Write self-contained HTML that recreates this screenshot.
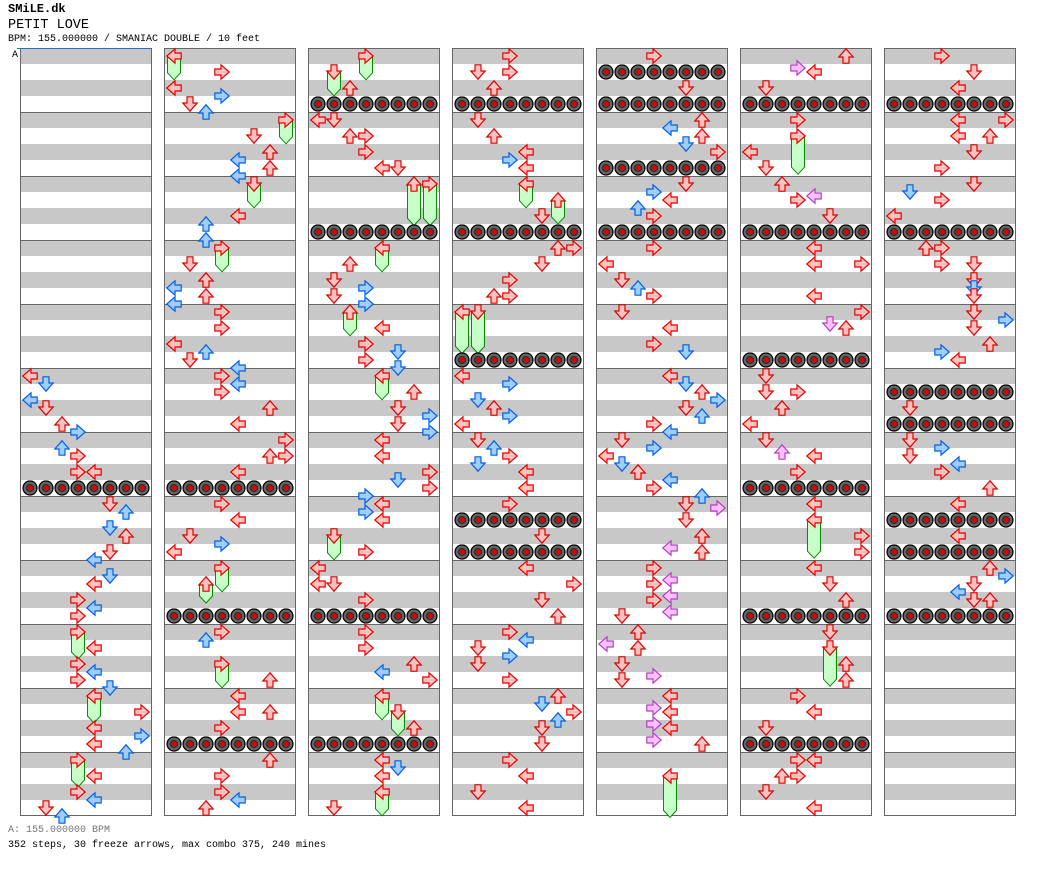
<!DOCTYPE html>
<html><head><meta charset="utf-8"><style>
body{margin:0;background:#fff;width:1040px;height:876px;overflow:hidden;font-family:"Liberation Mono",monospace}
.t{position:absolute;left:8px;white-space:pre;color:#000}
</style></head><body>
<div class="t" style="top:2px;font-size:12px;font-weight:bold">SMiLE.dk</div>
<div class="t" style="top:18px;font-size:13.5px">PETIT LOVE</div>
<div class="t" style="top:34px;font-size:10px">BPM: 155.000000 / SMANIAC DOUBLE / 10 feet</div>
<div class="t" style="top:825px;font-size:10px;color:#777">A: 155.000000 BPM</div>
<div class="t" style="top:840px;font-size:10px">352 steps, 30 freeze arrows, max combo 375, 240 mines</div>
<svg id="chart" width="1040" height="876" style="position:absolute;left:0;top:0" xmlns="http://www.w3.org/2000/svg"></svg>
<script>
// notes per column: [beat, lane] ; pink marked with 'p'
const notes0=[[20,0],[20.5,1],[21.5,0],[22,1],[23,2],[23.5,3],[24.5,2],[25,3],[26,3],[26,4],[28,5],[28.5,6],[29.5,5],[30,6],[31,5],[31.5,4],[32.5,5],[33,4],[34,3],[34.5,4],[35,3],[36,3],[37,4],[38,3],[38.5,4],[39,3],[39.5,5],[40,4],[41,7],[42,4],[42.5,7],[43,4],[43.5,6],[44,3],[45,4],[46,3],[46.5,4],[47,1],[47.5,2]];
const notes1=[[0,0],[1,3],[2,0],[2.5,3],[3,1],[3.5,2],[4,7],[5,5],[6,6],[6.5,4],[7,6],[7.5,4],[8,5],[10,4],[10.5,2],[11.5,2],[12,3],[13,1],[14,2],[14.5,0],[15,2],[15.5,0],[16,3],[17,3],[18,0],[18.5,2],[19,1],[19.5,4],[20,3],[20.5,4],[21,3],[22,6],[23,4],[24,7],[25,6],[25,7],[26,4],[28,3],[29,4],[30,1],[30.5,3],[31,0],[32,3],[33,2],[36,3],[36.5,2],[38,3],[39,6],[40,4],[41,4],[41,6],[42,3],[44,6],[45,3],[46,3],[46.5,4],[47,2]];
const notes2=[[0,3],[1,1],[2,2],[4,0],[4,1],[5,2],[5,3],[6,3],[7,4],[7,5],[8,6],[8,7],[12,4],[13,2],[14,1],[14.5,3],[15,1],[15.5,3],[16,2],[17,4],[18,3],[18.5,5],[19,3],[19.5,5],[20,4],[21,6],[22,5],[22.5,7],[23,5],[23.5,7],[24,4],[25,4],[26,7],[26.5,5],[27,7],[27.5,3],[28,4],[28.5,3],[29,4],[30,1],[31,3],[32,0],[33,0],[33,1],[34,3],[36,3],[37,3],[38,6],[38.5,4],[39,7],[40,4],[41,5],[42,6],[44,4],[44.5,5],[45,4],[46,4],[47,1]];
const notes3=[[0,3],[1,1],[1,3],[2,2],[4,1],[5,2],[6,4],[6.5,3],[7,4],[8,4],[9,6],[10,5],[12,6],[12,7],[13,5],[14,3],[15,2],[15,3],[16,0],[16,1],[20,0],[20.5,3],[21.5,1],[22,2],[22.5,3],[23,0],[24,1],[24.5,2],[25,3],[25.5,1],[26,4],[27,4],[28,3],[30,5],[32,4],[33,7],[34,5],[35,6],[36,3],[36.5,4],[37,1],[37.5,3],[38,1],[39,3],[40,6],[40.5,5],[41,7],[41.5,6],[42,5],[43,5],[44,3],[45,4],[46,1],[47,4]];
const notes4=[[0,3],[2,5],[4,6],[4.5,4],[5,6],[5.5,5],[6,7],[8,5],[8.5,3],[9,4],[9.5,2],[10,3],[12,3],[13,0],[14,1],[14.5,2],[15,3],[16,1],[17,4],[18,3],[18.5,5],[20,4],[20.5,5],[21,6],[21.5,7],[22,5],[22.5,6],[23,3],[23.5,4],[24,1],[24.5,3],[25,0],[25.5,1],[26,2],[26.5,4],[27,3],[27.5,6],[28,5],[28.25,7,'p'],[29,5],[30,6],[30.75,4,'p'],[31,6],[32,3],[32.75,4,'p'],[33,3],[33.75,4,'p'],[34,3],[34.75,4,'p'],[35,1],[36,2],[36.75,0,'p'],[37,2],[38,1],[38.75,3,'p'],[39,1],[40,4],[40.75,3,'p'],[41,4],[41.75,3,'p'],[42,4],[42.75,3,'p'],[43,6],[45,4]];
const notes5=[[0,6],[0.75,3,'p'],[1,4],[2,1],[4,3],[5,3],[6,0],[7,1],[8,2],[8.75,4,'p'],[9,3],[10,5],[12,4],[13,4],[13,7],[15,4],[16,7],[16.75,5,'p'],[17,6],[20,1],[21,1],[21,3],[22,2],[23,0],[24,1],[24.75,2,'p'],[25,4],[26,3],[28,4],[29,4],[30,7],[31,7],[32,4],[33,5],[34,6],[36,5],[37,5],[38,6],[39,6],[40,3],[41,4],[42,1],[44,3],[44,4],[45,2],[45,3],[46,1],[47,4]];
const notes6=[[0,3],[1,5],[2,4],[4,4],[4,7],[5,4],[5,6],[6,5],[7,3],[8,5],[8.5,1],[9,3],[10,0],[12,2],[12,3],[13,3],[13,5],[14,5],[14.5,5],[15,5],[16,5],[16.5,7],[17,5],[18,6],[18.5,3],[19,4],[22,1],[24,1],[24.5,3],[25,1],[25.5,4],[26,3],[27,6],[28,4],[30,4],[32,6],[32.5,7],[33,5],[33.5,4],[34,5],[34,6]];
const allNotes=[notes0,notes1,notes2,notes3,notes4,notes5,notes6];
// freezes: [column, beat, lane, lengthBeats]
const freezes=[[0,36,3,1.5],[0,40,4,1.5],[0,44,3,1.5],[1,0,0,1.3],[1,4,7,1.3],[1,8,5,1.3],[1,12,3,1.3],[1,32,3,1.3],[1,33,2,1],[1,38,3,1.3],[2,0,3,1.3],[2,1,1,1.3],[2,8,6,2.4],[2,8,7,2.4],[2,12,4,1.3],[2,16,2,1.3],[2,20,4,1.3],[2,30,1,1.3],[2,40,4,1.3],[2,41,5,1.3],[2,46,4,1.3],[3,8,4,1.3],[3,9,6,1.3],[3,16,0,2.4],[3,16,1,2.4],[4,45,4,2.4],[5,5,3,2.2],[5,29,4,2.2],[5,37,5,2.2]];
// mine rows: [column, beat]
const mines=[[0,27],[1,27],[1,35],[1,43],[2,3],[2,11],[2,35],[2,43],[3,3],[3,11],[3,19],[3,29],[3,31],[4,1],[4,3],[4,7],[4,11],[5,3],[5,11],[5,19],[5,27],[5,35],[5,43],[6,3],[6,11],[6,21],[6,23],[6,29],[6,31],[6,35]];
const NS='http://www.w3.org/2000/svg';
const svg=document.getElementById('chart');
const colX=c=>20+144*c, beatY=b=>48+16*b, laneX=(c,l)=>colX(c)+2+16*l;
function mk(tag,attrs,parent){const e=document.createElementNS(NS,tag);for(const k in attrs)e.setAttribute(k,attrs[k]);(parent||svg).appendChild(e);return e;}
for(let c=0;c<7;c++){
  const g=mk('g',{});
  
  
  mk('rect',{x:colX(c),y:48,width:132,height:768,fill:'#fff'},g);
  for(let b=0;b<48;b+=2){mk('rect',{x:colX(c)+1,y:beatY(b),width:131,height:16,fill:'#c8c8c8'},g);}
  for(let m=1;m<12;m++){mk('line',{x1:colX(c),x2:colX(c)+132,y1:48+64*m+0.5,y2:48+64*m+0.5,stroke:'#666','stroke-width':1},g);}
  mk('rect',{x:colX(c)+0.5,y:48.5,width:131,height:767,fill:'none',stroke:'#666','stroke-width':1},g);
}
mk('line',{x1:17,x2:152,y1:48.5,y2:48.5,stroke:'#2070d0','stroke-width':1});
const lab=mk('text',{x:12,y:57,'font-size':10,'font-family':'Liberation Mono, monospace',fill:'#000'});
lab.textContent='A';


freezes.forEach(f=>{
  const x=laneX(f[0],f[2]), y0=beatY(f[1])+8, y1=beatY(f[1]+f[3])+8;
  const p=mk('path',{d:`M${x+1.5},${y0} H${x+14.5} V${y1-4} L${x+8},${y1+3} L${x+1.5},${y1-4} Z`,fill:'#c8ffc8',stroke:'#009000','stroke-width':1});
  
  
});
const down='M5,0.8 H11 V7 H15.2 L8,15.2 L0.8,7 H5 Z';
const rot=[90,0,180,270];
allNotes.forEach((arr,c)=>arr.forEach(n=>{
  const x=laneX(c,n[1]), y=beatY(n[0]);
  let fill='#ffc0c0',stroke='#e00000';
  if(n[2]==='p'){fill='#ffc0ff';stroke='#b040c0';}
  else if(n[0]%1===0.5){fill='#a0ccff';stroke='#0060e0';}
  const a=mk('path',{d:down,fill:fill,stroke:stroke,'stroke-width':1.2,transform:`translate(${x},${y}) rotate(${rot[n[1]%4]},8,8)`});
  
  
}));
mines.forEach(m=>{
  const g=mk('g',{});
  
  
  for(let l=0;l<8;l++){
    const cx=laneX(m[0],l)+8, cy=beatY(m[1])+8;
    mk('circle',{cx:cx,cy:cy,r:7,fill:'#666',stroke:'#000','stroke-width':1.2},g);
    mk('circle',{cx:cx,cy:cy,r:3.6,fill:'#444',stroke:'#222','stroke-width':0.8},g);
    mk('path',{d:`M${cx-1},${cy-3}h2v2h2v2h-2v2h-2v-2h-2v-2h2z`,fill:'#e00000'},g);
  }
});
</script>
</body></html>
